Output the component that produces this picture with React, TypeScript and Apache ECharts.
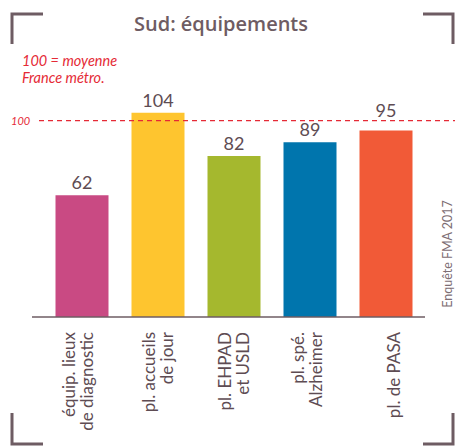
import React, { useEffect, useRef } from "react";
import * as echarts from "echarts";

const categories = [
  "équip. lieux\nde diagnostic",
  "pl. accueils\nde jour",
  "pl. EHPAD\net USLD",
  "pl. spé.\nAlzheimer",
  "pl. de PASA",
];
const values = [62, 104, 82, 89, 95];
const barColors = ["#c94a83", "#fec52f", "#a5b82e", "#0075ad", "#f15a37"];
const referenceValue = 100;
const yMax = 110;
const noteLines = ["100 = moyenne", "France métro."];

// small per-label horizontal nudges (px) to mimic the original layout
const labelShift = [-5, -1, -1, -4, 7];
// extra distance for value labels (avoid the dashed reference line on the last bar)
const valueLabelDistance = [4, 4, 4, 4, 11];

const FONT = "Lato";
const TITLE_FONT = "'Open Sans'";
const TEXT = "#5e4c53";
const FRAME = "#6e5c63";
const RED = "#e52a36";

export default function App() {
  const ref = useRef<HTMLDivElement>(null);
  useEffect(() => {
    const chart = echarts.init(ref.current!, null, { renderer: "svg" });
    chart.setOption({
      animation: false,
      grid: { left: 44, right: 31, top: 101, bottom: 131 },
      xAxis: {
        type: "category",
        data: categories,
        axisLine: { show: false },
        axisTick: { show: false },
        axisLabel: { show: false },
      },
      yAxis: {
        type: "value",
        min: 0,
        max: yMax,
        show: false,
        splitLine: { show: false },
      },
      series: [
        {
          type: "bar",
          barWidth: 53,
          data: values.map((v, i) => ({
            value: v,
            itemStyle: { color: barColors[i] },
            label: { distance: valueLabelDistance[i] },
          })),
          label: {
            show: true,
            position: "top",
            color: TEXT,
            fontFamily: FONT,
            fontSize: 18,
          },
        },
      ],
    });

    const yRef = chart.convertToPixel({ yAxisIndex: 0 }, referenceValue) as number;
    const yZero = chart.convertToPixel({ yAxisIndex: 0 }, 0) as number;

    const bracket = (pts: number[][]) => ({
      type: "polyline",
      shape: { points: pts },
      style: { stroke: FRAME, lineWidth: 3, fill: null },
      silent: true,
    });

    const catLabels = categories.map((c, i) => ({
      type: "text",
      x: (chart.convertToPixel({ xAxisIndex: 0 }, c) as number) + labelShift[i],
      y: yZero + 15,
      rotation: Math.PI / 2,
      style: {
        text: c,
        fill: TEXT,
        font: `17px ${FONT}`,
        lineHeight: 18,
        textAlign: "right",
        textVerticalAlign: "middle",
      },
    }));

    const notes = noteLines.map((t, i) => ({
      type: "text",
      x: 22,
      y: 60 + i * 17,
      style: {
        text: t,
        fill: RED,
        font: `italic 14.5px ${FONT}`,
        textAlign: "left",
        textVerticalAlign: "middle",
      },
    }));

    chart.setOption({
      graphic: [
        bracket([[12, 44], [12, 14], [43, 14]]),
        bracket([[423, 14], [453, 14], [453, 44]]),
        bracket([[12, 413], [12, 444], [43, 444]]),
        bracket([[423, 444], [453, 444], [453, 413]]),
        {
          type: "text",
          x: 221,
          y: 23,
          style: {
            text: "Sud: équipements",
            fill: FRAME,
            font: `600 20px ${TITLE_FONT}`,
            textAlign: "center",
            textVerticalAlign: "middle",
          },
        },
        ...notes,
        {
          type: "text",
          x: 11,
          y: yRef,
          style: {
            text: String(referenceValue),
            fill: RED,
            font: `italic 11px ${FONT}`,
            textAlign: "left",
            textVerticalAlign: "middle",
          },
        },
        {
          type: "line",
          shape: { x1: 39, y1: yRef, x2: 455, y2: yRef },
          style: { stroke: RED, lineWidth: 1.3, lineDash: [5, 4] },
          z: 10,
        },
        {
          type: "line",
          shape: { x1: 32, y1: yZero, x2: 425, y2: yZero },
          style: { stroke: FRAME, lineWidth: 1.3 },
          z: 10,
        },
        ...catLabels,
        {
          type: "text",
          x: 447.5,
          y: 254,
          rotation: Math.PI / 2,
          style: {
            text: "Enquête FMA 2017",
            fill: "#7d6d73",
            font: `12.5px ${FONT}`,
            textAlign: "center",
            textVerticalAlign: "middle",
          },
        },
      ],
    });
    return () => chart.dispose();
  }, []);
  return (
    <div
      ref={ref}
      style={{ position: "fixed", left: 0, top: 0, width: 455, height: 448, background: "#fff" }}
    />
  );
}
